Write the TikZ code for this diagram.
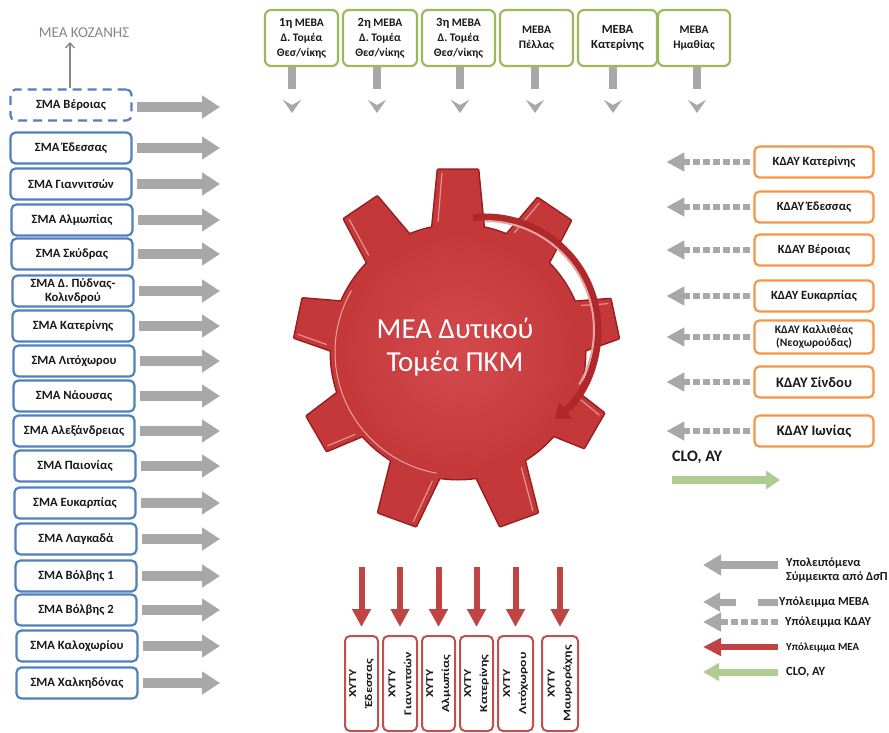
\documentclass[tikz,border=0pt]{standalone}
\usepackage{fontspec}
\setmainfont{Carlito}
\usetikzlibrary{arrows.meta,calc}
\definecolor{bluebox}{RGB}{79,129,189}
\definecolor{greenbox}{RGB}{155,187,89}
\definecolor{orangebox}{RGB}{247,150,70}
\definecolor{redbox}{RGB}{192,80,77}
\definecolor{arrgray}{RGB}{168,168,168}
\definecolor{arrred}{RGB}{192,68,68}
\definecolor{arrgreen}{RGB}{175,204,145}
\definecolor{gearred}{RGB}{196,56,58}
\definecolor{geardark}{RGB}{150,30,32}
\definecolor{gearlight}{RGB}{212,74,76}
\definecolor{ribbon}{RGB}{176,40,42}
\definecolor{txtgray}{RGB}{135,135,135}
\definecolor{txtdark}{RGB}{25,25,25}
\begin{document}
\begin{tikzpicture}[x=1pt,y=-1pt,
  smabox/.style={draw=bluebox, line width=2.2pt, rounded corners=5pt, fill=white,
    minimum width=121pt, minimum height=31pt, inner sep=1pt, align=center,
    font=\bfseries\fontsize{12.6}{14}\selectfont, text=txtdark},
  topbox/.style={draw=greenbox, line width=2.2pt, rounded corners=6pt, fill=white,
    minimum height=56pt, inner sep=1pt, align=center,
    font=\bfseries\fontsize{11.5}{15}\selectfont, text=txtdark},
  kbox/.style={draw=orangebox, line width=2.2pt, rounded corners=5pt, fill=white,
    minimum width=119pt, minimum height=31pt, inner sep=1pt, align=center,
    font=\bfseries\fontsize{12.5}{14}\selectfont, text=txtdark},
  xbox/.style={draw=redbox, line width=2pt, rounded corners=5pt, fill=white,
    rotate=90, minimum width=95pt, inner sep=1pt, align=center,
    font=\bfseries\fontsize{10.5}{16}\selectfont, text=txtdark},
  legtext/.style={anchor=west, align=left, inner sep=0pt,
    font=\bfseries\fontsize{12.3}{14}\selectfont, text=txtdark},
  grayarr/.style={arrgray, line width=10pt, -{Triangle[length=18pt,width=22pt]}},
  mebaarr/.style={arrgray, line width=8pt, dash pattern=on 22pt off 40pt,
    -{Stealth[length=13pt,width=18pt,inset=5pt]}},
  kdayarr/.style={arrgray, line width=6pt, dash pattern=on 7pt off 3pt,
    -{Triangle[length=18pt,width=18pt]}},
  redarr/.style={arrred, line width=6pt, -{Triangle[length=18pt,width=18pt]}},
  greenarr/.style={arrgreen, line width=8pt, -{Triangle[length=14pt,width=18pt]}}
]
\fill[white] (0,0) rectangle (889,733);
\useasboundingbox (0,0) rectangle (889,733);

% ---------------- gear ----------------
\begin{scope}[shift={(458,352)}]
  \foreach \a/\r in {90/182,56/172,12/160,-30/157,-70/178,-110/178,-150/163,168/163,124/174}{
    \draw[geardark, line width=3pt, line join=round, rotate=\a]
      (100pt,-28pt) -- (\r pt,-20pt) -- (\r pt,20pt) -- (100pt,28pt) -- cycle;
  }
  \draw[geardark, line width=3pt] (0,0) circle[radius=127pt];
  \foreach \a/\r in {90/182,56/172,12/160,-30/157,-70/178,-110/178,-150/163,168/163,124/174}{
    \fill[gearred, rotate=\a]
      (100pt,-28pt) -- (\r pt,-20pt) -- (\r pt,20pt) -- (100pt,28pt) -- cycle;
    \draw[gearlight!60!white, line width=1.2pt, rotate=\a]
      (130pt,20pt) -- (\r pt - 3pt,16pt);
  }
  \fill[gearred] (0,0) circle[radius=127pt];
  \shade[inner color=gearlight, outer color=gearred] (0,0) circle[radius=122pt];
  \draw[gearlight!50!white, line width=1pt] (150:123pt) arc[start angle=150, end angle=260, radius=123pt];
\end{scope}
\draw[ribbon, line width=7pt, -{Triangle[length=14pt,width=20pt]}]
  ([shift={(96:113pt)}]485,330) arc[start angle=96, end angle=-52, radius=113pt];
\draw[white!55!gearred, line width=2pt]
  ([shift={(90:109pt)}]485,330) arc[start angle=90, end angle=-30, radius=109pt];
\node[text=white, align=center, font=\fontsize{29}{33}\selectfont] (gear) at (455,347)
  {ΜΕΑ Δυτικού\\Τομέα ΠΚΜ};

% ---------------- left column ----------------
\node[smabox, dashed, dash pattern=on 9pt off 6pt] (s1) at (71,105) {ΣΜΑ Βέροιας};
\node[text=txtgray, font=\fontsize{15}{16}\selectfont, inner sep=0pt] (koz) at (84,33) {ΜΕΑ ΚΟΖΑΝΗΣ};
\coordinate (kozarr) at (70,42);
\draw[txtgray, line width=1.3pt, -{Straight Barb[length=5pt,width=9pt]}] (s1.north -| kozarr) -- (kozarr);
\coordinate (se1) at (220,107);
\draw[grayarr] ([xshift=4pt]s1.east |- se1) -- (se1);
\foreach \i/\x/\y/\t in {
  2/71/148/ΣΜΑ Έδεσσας,
  3/71/184/ΣΜΑ Γιαννιτσών,
  4/72/220/ΣΜΑ Αλμωπίας,
  5/72/254/ΣΜΑ Σκύδρας,
  6/73/291/{ΣΜΑ Δ. Πύδνας-\\Κολινδρού},
  7/73/326/ΣΜΑ Κατερίνης,
  8/74/361/ΣΜΑ Λιτόχωρου,
  9/74/396/ΣΜΑ Νάουσας,
  10/74/431/ΣΜΑ Αλεξάνδρειας,
  11/75/466/ΣΜΑ Παιονίας,
  12/75/503/ΣΜΑ Ευκαρπίας,
  13/76/539/ΣΜΑ Λαγκαδά,
  14/76/576/ΣΜΑ Βόλβης 1,
  15/76/610/ΣΜΑ Βόλβης 2,
  16/77/646/ΣΜΑ Καλοχωρίου,
  17/77/683/ΣΜΑ Χαλκηδόνας}{
  \node[smabox] (s\i) at (\x,\y) {\t};
  \coordinate (se\i) at (220,\y);
  \draw[grayarr] ([xshift=4pt]s\i.east) -- (se\i);
}

% ---------------- top boxes ----------------
\node[topbox, minimum width=73pt] (t1) at (301.5,38) {{\fontsize{12.5}{15}\selectfont 1η} ΜΕΒΑ\\Δ. Τομέα\\Θεσ/νίκης};
\node[topbox, minimum width=74pt] (t2) at (380,38) {{\fontsize{12.5}{15}\selectfont 2η} ΜΕΒΑ\\Δ. Τομέα\\Θεσ/νίκης};
\node[topbox, minimum width=73pt] (t3) at (458.5,38) {{\fontsize{12.5}{15}\selectfont 3η} ΜΕΒΑ\\Δ. Τομέα\\Θεσ/νίκης};
\node[topbox, minimum width=73pt] (t4) at (536.5,38) {ΜΕΒΑ\\Πέλλας};
\node[topbox, minimum width=79pt, font=\bfseries\fontsize{12.5}{15.5}\selectfont] (t5) at (617.5,38) {ΜΕΒΑ\\Κατερίνης};
\node[topbox, minimum width=72pt] (t6) at (694,38) {ΜΕΒΑ\\Ημαθίας};
\foreach \i/\x in {1/292,2/377,3/460,4/535,5/613,6/697}{
  \coordinate (ta\i) at (\x,113);
  \draw[mebaarr] (t\i.south -| ta\i) -- (ta\i);
}

% ---------------- right boxes ----------------
\node[kbox] (k1) at (814,162) {ΚΔΑΥ Κατερίνης};
\node[kbox] (k2) at (814,207) {ΚΔΑΥ Έδεσσας};
\node[kbox] (k3) at (814,250) {ΚΔΑΥ Βέροιας};
\node[kbox] (k4) at (814,296) {ΚΔΑΥ Ευκαρπίας};
\node[kbox, minimum height=33pt, font=\bfseries\fontsize{11.5}{13}\selectfont] (k5) at (814,337) {ΚΔΑΥ Καλλιθέας\\(Νεοχωρούδας)};
\node[kbox, font=\bfseries\fontsize{14.5}{16}\selectfont] (k6) at (814,382) {ΚΔΑΥ Σίνδου};
\node[kbox, font=\bfseries\fontsize{14.5}{16}\selectfont] (k7) at (814,431) {ΚΔΑΥ Ιωνίας};
\foreach \i in {1,...,7}{
  \coordinate (ke\i) at ($(k\i.west)+(-87,0)$);
  \draw[kdayarr] ([xshift=-3pt]k\i.west) -- (ke\i);
}
\node[legtext, font=\bfseries\fontsize{16}{17}\selectfont] (clo) at (672,457) {CLO, AY};
\coordinate (cloa) at (672,480);
\coordinate (clob) at (780,480);
\draw[greenarr] (cloa) -- (clob);

% ---------------- bottom boxes ----------------
\node[xbox, minimum height=33pt] (x1) at (361.5,683.5) {\scalebox{1.3}[1]{ΧΥΤΥ}\\\scalebox{1.3}[1]{Έδεσσας}};
\node[xbox, minimum height=34pt] (x2) at (400,683.5) {\scalebox{1.3}[1]{ΧΥΤΥ}\\\scalebox{1.3}[1]{Γιαννιτσών}};
\node[xbox, minimum height=33pt] (x3) at (438.5,683.5) {\scalebox{1.3}[1]{ΧΥΤΥ}\\\scalebox{1.3}[1]{Αλμωπίας}};
\node[xbox, minimum height=33pt] (x4) at (476.5,683.5) {\scalebox{1.3}[1]{ΧΥΤΥ}\\\scalebox{1.3}[1]{Κατερίνης}};
\node[xbox, minimum height=35pt] (x5) at (515.5,683.5) {\scalebox{1.3}[1]{ΧΥΤΥ}\\\scalebox{1.3}[1]{Λιτόχωρου}};
\node[xbox, minimum height=36pt] (x6) at (560,683.5) {\scalebox{1.3}[1]{ΧΥΤΥ}\\\scalebox{1.3}[1]{Μαυροράχης}};
\foreach \i/\x in {1/361.5,2/400,3/438.5,4/476.5,5/515.5,6/560}{
  \coordinate (xa\i) at (\x,567);
  \draw[redarr, shorten >=8pt] (xa\i) -- (x\i.east);
}

% ---------------- legend ----------------
\coordinate (l1a) at (778,565); \coordinate (l1b) at (703,565);
\coordinate (l2a) at (778,602); \coordinate (l2b) at (703,602);
\coordinate (l3a) at (778,622); \coordinate (l3b) at (703,622);
\coordinate (l4a) at (778,647); \coordinate (l4b) at (703,647);
\coordinate (l5a) at (778,672); \coordinate (l5b) at (703,672);
\draw[arrgray, line width=8pt, -{Triangle[length=18pt,width=20pt]}] (l1a) -- (l1b);
\draw[arrgray, line width=7pt, dash pattern=on 20pt off 22pt on 20pt off 0pt, -{Triangle[length=17pt,width=18pt]}] (l2a) -- (l2b);
\draw[kdayarr] (l3a) -- (l3b);
\draw[arrred, line width=6pt, -{Triangle[length=18pt,width=17pt]}] (l4a) -- (l4b);
\draw[arrgreen, line width=7pt, -{Triangle[length=16pt,width=17pt]}] (l5a) -- (l5b);
\node[legtext] (lt1) at (786,570) {Υπολειπόμενα\\Σύμμεικτα από ΔσΠ};
\node[legtext] (lt2) at (779,602) {Υπόλειμμα ΜΕΒΑ};
\node[legtext] (lt3) at (785,622) {Υπόλειμμα ΚΔΑΥ};
\node[legtext, font=\bfseries\fontsize{10.8}{12}\selectfont] (lt4) at (786,647) {Υπόλειμμα ΜΕΑ};
\node[legtext, font=\bfseries\fontsize{12.5}{13}\selectfont] (lt5) at (786,672) {CLO, AY};
\end{tikzpicture}
\end{document}
